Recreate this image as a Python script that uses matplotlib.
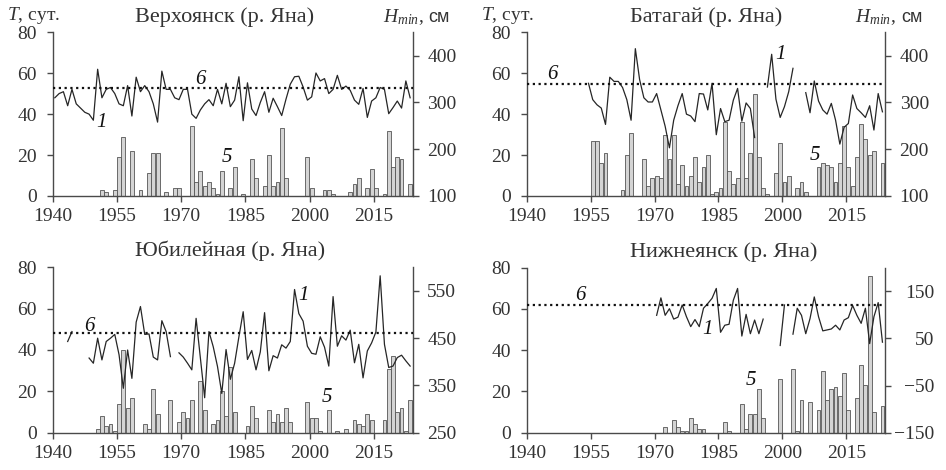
import numpy as np
import matplotlib
matplotlib.use('Agg')
import matplotlib.pyplot as plt

plt.rcParams['font.family'] = 'Liberation Serif'
plt.rcParams['mathtext.fontset'] = 'custom'
plt.rcParams['mathtext.rm'] = 'Liberation Serif'
plt.rcParams['mathtext.it'] = 'Liberation Serif:italic'

nan = np.nan
xticks = [1940, 1955, 1970, 1985, 2000, 2015]

# --- Верхоянск ---
verkh_title = 'Верхоянск (р. Яна)'
verkh_bar_years = [1951, 1952, 1954, 1955, 1956, 1958, 1960, 1962, 1963, 1964, 1966, 1968,
                   1969, 1972, 1973, 1974, 1975, 1976, 1977, 1978, 1979, 1981, 1982, 1984,
                   1986, 1987, 1989, 1990, 1991, 1992, 1993, 1994, 1999, 2000, 2003, 2004,
                   2005, 2009, 2010, 2011, 2013, 2014, 2015, 2017, 2018, 2019, 2020, 2021, 2023]
verkh_bar_vals = [3, 2, 3, 19, 29, 22, 3, 11, 21, 21, 2, 4,
                  4, 34, 7, 12, 5, 7, 4, 1, 12, 4, 14, 1,
                  18, 9, 5, 20, 5, 7, 33, 9, 19, 4, 3, 3,
                  1, 2, 6, 9, 4, 13, 4, 1, 32, 14, 19, 18, 6]
verkh_line_start = 1940
verkh_line = [310, 319, 323, 293, 328, 297, 288, 279, 275, 262,
              371, 310, 328, 332, 319, 297, 293, 336, 271, 354,
              323, 336, 323, 297, 258, 367, 328, 328, 310, 306,
              328, 328, 275, 266, 284, 297, 306, 293, 328, 297,
              341, 291, 305, 355, 261, 342, 286, 272, 300, 323,
              279, 309, 291, 272, 307, 339, 355, 356, 333, 305,
              312, 363, 346, 351, 319, 328, 358, 328, 335, 326,
              305, 296, 330, 268, 303, 310, 332, 328, 276, 289,
              303, 288, 346, 310]
verkh_crit = 330

# --- Батагай ---
batag_title = 'Батагай (р. Яна)'
batag_bar_years = [1955, 1956, 1957, 1958, 1962, 1963, 1964, 1967, 1968, 1969, 1970, 1971,
                   1972, 1973, 1974, 1975, 1976, 1977, 1978, 1979, 1980, 1981, 1982, 1983,
                   1984, 1985, 1986, 1987, 1988, 1989, 1990, 1991, 1992, 1993, 1994, 1995,
                   1996, 1998, 1999, 2000, 2001, 2003, 2004, 2005, 2008, 2009, 2010, 2011,
                   2012, 2013, 2014, 2015, 2016, 2017, 2018, 2019, 2020, 2021, 2023]
batag_bar_vals = [27, 27, 16, 21, 3, 20, 31, 18, 5, 9, 10, 9,
                  30, 18, 30, 6, 15, 5, 10, 19, 7, 14, 20, 1,
                  2, 4, 36, 12, 6, 9, 36, 9, 21, 50, 19, 4,
                  1, 11, 26, 7, 10, 4, 7, 2, 14, 16, 15, 14,
                  7, 16, 34, 14, 5, 19, 35, 28, 20, 22, 16]
batag_line_start = 1954
batag_line = [341, 306, 295, 288, 253, 354, 345, 345, 332, 306,
              262, 415, 349, 310, 301, 301, 319, 284, 249, 203,
              262, 293, 319, 275, 271, 259, 319, 318, 284, 341,
              231, 287, 259, 262, 305, 330, 260, 299, 287, 225,
              nan, nan, 333, 403, 307, 268, 291, 323, 373, nan,
              nan, 321, 278, 346, 303, 284, 275, 298, 262, 211,
              247, 255, 316, 287, 278, 268, 293, 241, 319, 280]
batag_crit = 340

# --- Юбилейная ---
yubil_title = 'Юбилейная (р. Яна)'
yubil_bar_years = [1950, 1951, 1952, 1953, 1954, 1955, 1956, 1957, 1958, 1961, 1962, 1963,
                   1964, 1967, 1969, 1970, 1971, 1972, 1974, 1975, 1977, 1978, 1979, 1980,
                   1981, 1982, 1985, 1986, 1987, 1990, 1991, 1992, 1993, 1994, 1995, 1999,
                   2000, 2001, 2002, 2004, 2006, 2008, 2010, 2011, 2012, 2013, 2014, 2017,
                   2018, 2019, 2020, 2021, 2022, 2023]
yubil_bar_vals = [2, 8, 3, 4, 1, 14, 40, 12, 17, 4, 2, 21,
                  9, 16, 5, 10, 7, 16, 25, 11, 4, 6, 20, 8,
                  32, 10, 3, 13, 7, 11, 5, 9, 5, 12, 5, 15,
                  7, 7, 1, 11, 1, 2, 6, 4, 3, 9, 6, 6,
                  31, 37, 10, 12, 1, 16]
yubil_line_start = 1943
yubil_line = [443, 464, nan, nan, nan, 408, 397,
              450, 404, 443, 450, 458, 415, 344, 425, 365, 484,
              517, 458, 459, 410, 404, 487, 464, 411, nan, 419,
              410, 397, 383, 492, 408, 324, 464, 432, 390, 333,
              426, 363, 397, 453, 506, 405, 424, 383, 421, 504,
              381, 413, 408, 436, 429, 443, 553, 502, 486, 433,
              418, 416, 453, 431, 391, 538, 433, 455, 446, 467,
              398, 437, 366, 423, 440, 463, 582, 437, 388, 391,
              409, 414, 402, 391]
yubil_crit = 460

# --- Нижнеянск ---
nizh_title = 'Нижнеянск (р. Яна)'
nizh_bar_years = [1972, 1974, 1975, 1976, 1977, 1978, 1979, 1980, 1981, 1986, 1987, 1990,
                  1991, 1992, 1993, 1994, 1995, 1999, 2002, 2003, 2004, 2006, 2008, 2009,
                  2010, 2011, 2012, 2013, 2014, 2015, 2017, 2018, 2019, 2020, 2021, 2023]
nizh_bar_vals = [3, 6, 3, 1, 1, 7, 4, 2, 2, 5, 1, 14,
                 2, 9, 9, 21, 7, 26, 31, 1, 16, 15, 11, 30,
                 16, 21, 22, 18, 29, 11, 17, 33, 23, 76, 10, 13]
nizh_line_start = 1970
nizh_line = [99, 136, 99, 113, 91, 95, 121, 96, 75, 90,
             75, 114, 124, 135, 156, 63, 78, 80, 131, 156,
             55, 101, 60, 89, 60, 91, nan, nan, nan, 35,
             121, nan, 59, 114, 99, 60, 92, 138, 96, 66,
             68, 70, 78, 68, 89, 94, 120, 99, 82, 114,
             39, 96, 126, 42]
nizh_crit = 120

panels = [
    dict(title=verkh_title, by=verkh_bar_years, bv=verkh_bar_vals,
         ls=verkh_line_start, lv=verkh_line, crit=verkh_crit,
         rlim=(100, 450), rticks=[100, 200, 300, 400],
         rect=[52.7, 196, 360, 163.7], tx=135, ty=17, units=True,
         lab1=(1951.5, 36), lab5=(1980.7, 19), lab6=(1974.4, 57)),
    dict(title=batag_title, by=batag_bar_years, bv=batag_bar_vals,
         ls=batag_line_start, lv=batag_line, crit=batag_crit,
         rlim=(100, 450), rticks=[100, 200, 300, 400],
         rect=[526.7, 196, 358.3, 163.7], tx=630, ty=17, units=True,
         lab1=(1999.6, 69), lab5=(2007.6, 20), lab6=(1946.1, 59.6)),
    dict(title=yubil_title, by=yubil_bar_years, bv=yubil_bar_vals,
         ls=yubil_line_start, lv=yubil_line, crit=yubil_crit,
         rlim=(250, 600), rticks=[250, 350, 450, 550],
         rect=[52.7, 432.7, 360, 165.4], tx=135, ty=251, units=False,
         lab1=(1998.5, 66.6), lab5=(2004.1, 16.8), lab6=(1948.5, 51.6)),
    dict(title=nizh_title, by=nizh_bar_years, bv=nizh_bar_vals,
         ls=nizh_line_start, lv=nizh_line, crit=nizh_crit,
         rlim=(-150, 200), rticks=[-150, -50, 50, 150],
         rect=[526.7, 432.7, 358.3, 165.0], tx=630, ty=252, units=False,
         lab1=(1982.4, 49.8), lab5=(1992.6, 25.5), lab6=(1952.5, 66.3)),
]

W, H = 946, 470
fig = plt.figure(figsize=(W / 100, H / 100), dpi=100)

axis_col = '#4a4a4a'
text_col = '#333333'
fs = 14

for i, p in enumerate(panels):
    l, b, w, h = p['rect']
    ax = fig.add_axes([l / W, (H - b) / H, w / W, h / H])
    ax.patch.set_visible(False)
    ax2 = ax.twinx()

    # bars: T, days (left axis)
    ax.bar(np.array(p['by']) + 0.5, p['bv'], width=0.9,
           facecolor='#d4d4d4', edgecolor='#555555', linewidth=0.6, zorder=2)

    # line: H_min (right axis)
    years = np.arange(p['ls'], p['ls'] + len(p['lv'])) + 0.5
    ax2.plot(years, p['lv'], color='#262626', linewidth=0.9, zorder=3)
    ax2.axhline(p['crit'], color='#111111', linestyle=(0, (1, 1.6)),
                linewidth=1.6, zorder=3)

    ax.set_xlim(1940, 2024.1)
    ax.set_ylim(0, 80)
    ax.set_yticks([0, 20, 40, 60, 80])
    ax.set_xticks(xticks)
    ax2.set_ylim(*p['rlim'])
    ax2.set_yticks(p['rticks'])

    for a in (ax, ax2):
        for s in a.spines.values():
            s.set_visible(False)
            s.set_color(axis_col)
            s.set_linewidth(1.0)
    ax.spines['left'].set_visible(True)
    ax.spines['bottom'].set_visible(True)
    ax2.spines['right'].set_visible(True)

    ax.tick_params(axis='both', direction='out', length=4.5, width=1.0,
                   color=axis_col, labelsize=fs, labelcolor=text_col)
    ax.tick_params(axis='y', pad=7)
    ax.tick_params(axis='x', pad=4)
    ax2.tick_params(axis='y', direction='out', length=4.5, width=1.0,
                    color=axis_col, labelsize=fs, labelcolor=text_col, pad=6)
    if i == 3:
        ax2.set_yticks(p['rticks'])
        ax2.set_yticklabels(['\u2212150', '\u221250', '50', '150'], ha='right')
        ax2.tick_params(axis='y', pad=31)

    fig.text(p['tx'] / W, 1 - p['ty'] / H, p['title'], fontsize=16,
             color=text_col, ha='left', va='center')

    for key, txt in (('lab1', '1'), ('lab5', '5'), ('lab6', '6')):
        x, y = p[key]
        ax.text(x, y, txt, fontsize=15, style='italic', color='#111111',
                ha='center', va='center', zorder=5)

    if p['units']:
        fig.text((l - 46) / W, 1 - 16 / H, '$T$, сут.', fontsize=fs,
                 color=text_col, ha='left', va='center')
        fig.text((l + w - 30) / W, 1 - 17 / H, '$H_{min}$,', fontsize=fs,
                 color=text_col, ha='left', va='center')
        fig.text((l + w + 16) / W, 1 - 17 / H, 'см', fontsize=13,
                 family='Liberation Sans', color=text_col, ha='left', va='center')

fig.savefig('out.png', dpi=100)
